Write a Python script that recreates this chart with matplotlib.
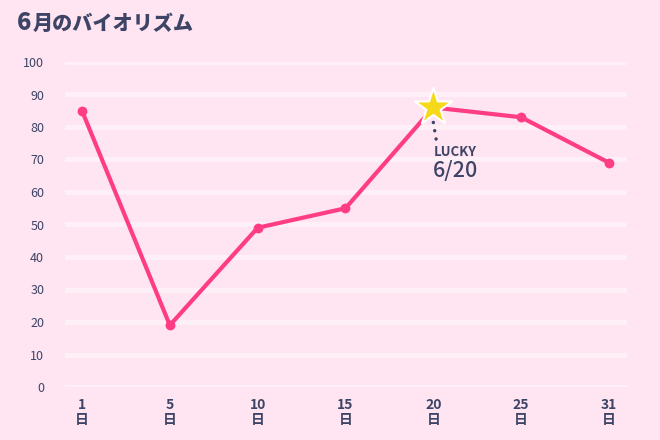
import matplotlib
matplotlib.use('Agg')
import matplotlib.pyplot as plt

plt.rcParams['font.family'] = ['Noto Sans CJK JP', 'DejaVu Sans']

# data
days = ['1', '5', '10', '15', '20', '25', '31']
values = [85, 19, 49, 55, 86, 83, 69]
y_ticks = [0, 10, 20, 30, 40, 50, 60, 70, 80, 90, 100]
lucky_idx = 4
title_num = '6'
title_rest = '月のバイオリズム'

bg = '#FFE4F1'
pink = '#FF3D85'
ink = '#3D4466'

fig = plt.figure(figsize=(6.6, 4.4), dpi=100, facecolor=bg)
ax = fig.add_axes([65 / 660, 1 - 387 / 440, (627 - 65) / 660, (387 - 62) / 440])
ax.set_facecolor(bg)

x = list(range(len(days)))
ax.set_xlim(-17 / 87.8, 6 + 18 / 87.8)
ax.set_ylim(0, 100)

for t in y_ticks:
    ax.axhline(t, color='white', lw=3.5, alpha=0.45, zorder=0)

ax.plot(x, values, color=pink, lw=3, zorder=3, solid_capstyle='round')
mx = [i for i in x if i != lucky_idx]
ax.scatter(mx, [values[i] for i in mx], s=50, color=pink, zorder=4, lw=0)
ax.scatter([lucky_idx], [values[lucky_idx]], marker='*', s=800, color='#F7D91C',
           edgecolor='white', lw=1.5, zorder=5)

# dotted leader
ax.plot([lucky_idx, lucky_idx + 0.035], [values[lucky_idx] - 4.6, values[lucky_idx] - 10.3],
        ls=(0, (0.01, 2.4)), color=ink, lw=2.5, dash_capstyle='round', zorder=4)
ax.text(lucky_idx + 0.01, values[lucky_idx] - 11.5, 'LUCKY', color=ink, fontsize=9.5,
        fontweight='bold', ha='left', va='top')
ax.text(lucky_idx + 0.0, values[lucky_idx] - 16.3, '6/20', color=ink, fontsize=15.5,
        fontweight='medium', ha='left', va='top')

ax.set_xticks(x)
ax.set_xticklabels([d + '\n日' for d in days], fontsize=10, fontweight='bold', color=ink,
                   linespacing=1.1)
ax.set_yticks(y_ticks)
ax.set_yticklabels([str(t) for t in y_ticks], fontsize=9, color=ink)
ax.tick_params(length=0)
ax.tick_params(axis='x', pad=8)
ax.tick_params(axis='y', pad=15)
for s in ax.spines.values():
    s.set_visible(False)

fig.text(17 / 660, 1 - 23 / 440, title_num, fontsize=17, fontweight='black', color=ink,
         va='center', ha='left')
fig.text(33 / 660, 1 - 24 / 440, title_rest, fontsize=14.5, fontweight='black', color=ink,
         va='center', ha='left')

fig.savefig('out.png', dpi=100, facecolor=bg)
